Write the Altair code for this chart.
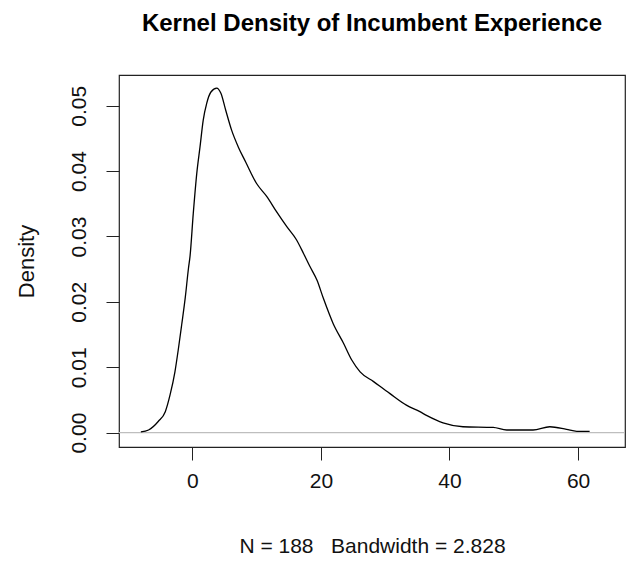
import altair as alt
import pandas as pd

# Density curve
xs = [-8.0, -6.8, -5.3, -4.2, -3.45, -2.7, -2.15, -1.65, -1.1, -0.6, -0.35,
      0.15, 0.7, 1.2, 1.7, 2.25, 2.9, 3.8, 4.45, 5.2, 6.1, 7.15, 8.3, 10.0,
      11.6, 13.1, 14.7, 16.2, 17.3, 18.3, 19.4, 20.4, 21.9, 23.5, 24.8, 26.1,
      28.2, 30.7, 33.3, 35.4, 36.5, 39.0, 42.1, 46.8, 48.9, 53.0, 55.6, 58.2,
      59.8, 61.8]
ys = [0.0001, 0.0004, 0.0017, 0.0032, 0.0058, 0.0093, 0.0129, 0.0165, 0.0206,
      0.0251, 0.0270, 0.0335, 0.0397, 0.0437, 0.0478, 0.0504, 0.0521, 0.0527,
      0.0519, 0.0493, 0.0463, 0.0437, 0.0414, 0.0381, 0.0361, 0.0338, 0.0315,
      0.0295, 0.0274, 0.0254, 0.0233, 0.0205, 0.0167, 0.0137, 0.0111, 0.0093,
      0.0078, 0.0060, 0.0042, 0.0032, 0.0026, 0.0015, 0.0009, 0.0008, 0.0004,
      0.0004, 0.0009, 0.0005, 0.0002, 0.0002]

x_ticks = [0, 20, 40, 60]
y_ticks = [0.00, 0.01, 0.02, 0.03, 0.04, 0.05]
title_text = "Kernel Density of Incumbent Experience"
x_title = "N = 188\u00a0\u00a0\u00a0Bandwidth = 2.828"
y_title = "Density"

df = pd.DataFrame({"x": xs, "y": ys})
zero = pd.DataFrame({"y": [0.0]})
ttl = pd.DataFrame({"t": [title_text]})

FONT = "Liberation Sans"
FS = 21

xscale = alt.Scale(domain=[-11.4, 67.3], nice=False, zero=False)
yscale = alt.Scale(domain=[-0.0022, 0.0547], nice=False, zero=False)

xaxis = alt.Axis(values=x_ticks, title=x_title, grid=False, domain=False,
                 tickSize=13, tickColor="#222222", tickWidth=1,
                 labelFont=FONT, labelFontSize=FS, labelColor="#111111",
                 labelPadding=10, labelBaseline="top", format="d",
                 titleFont=FONT, titleFontSize=FS, titleFontWeight="normal",
                 titleColor="#111111", titleBaseline="alphabetic", titleY=105)
yaxis = alt.Axis(values=y_ticks, title=y_title, grid=False, domain=False,
                 tickSize=13, tickColor="#222222", tickWidth=1,
                 labelFont=FONT, labelFontSize=FS, labelColor="#111111",
                 labelAngle=-90, labelAlign="center", labelBaseline="bottom",
                 labelPadding=17, format=".2f",
                 titleFont=FONT, titleFontSize=22, titleFontWeight="normal",
                 titleColor="#111111", titleAngle=-90, titleAlign="center",
                 titleBaseline="alphabetic", titleX=-86, titleY=186)

line = alt.Chart(df).mark_line(color="black", strokeWidth=1.3,
                               interpolate="monotone").encode(
    x=alt.X("x:Q", scale=xscale, axis=xaxis),
    y=alt.Y("y:Q", scale=yscale, axis=yaxis),
)

rule = alt.Chart(zero).mark_rule(color="#BEBEBE", strokeWidth=1.3).encode(
    y=alt.Y("y:Q", scale=yscale)
)

title = alt.Chart(ttl).mark_text(font=FONT, fontSize=24, fontWeight="bold",
                                 color="black", align="center",
                                 baseline="alphabetic").encode(
    text="t:N", x=alt.value(253), y=alt.value(-44)
)

chart = alt.layer(rule, line, title).properties(
    width=506, height=372,
    background="white",
    autosize=alt.AutoSizeParams(type="none"),
    padding={"left": 111, "top": 67, "right": 4, "bottom": 110},
).configure_view(stroke="#222222", strokeWidth=1.2)

chart.save("out.html", embed_options={"renderer": "svg", "actions": False})
